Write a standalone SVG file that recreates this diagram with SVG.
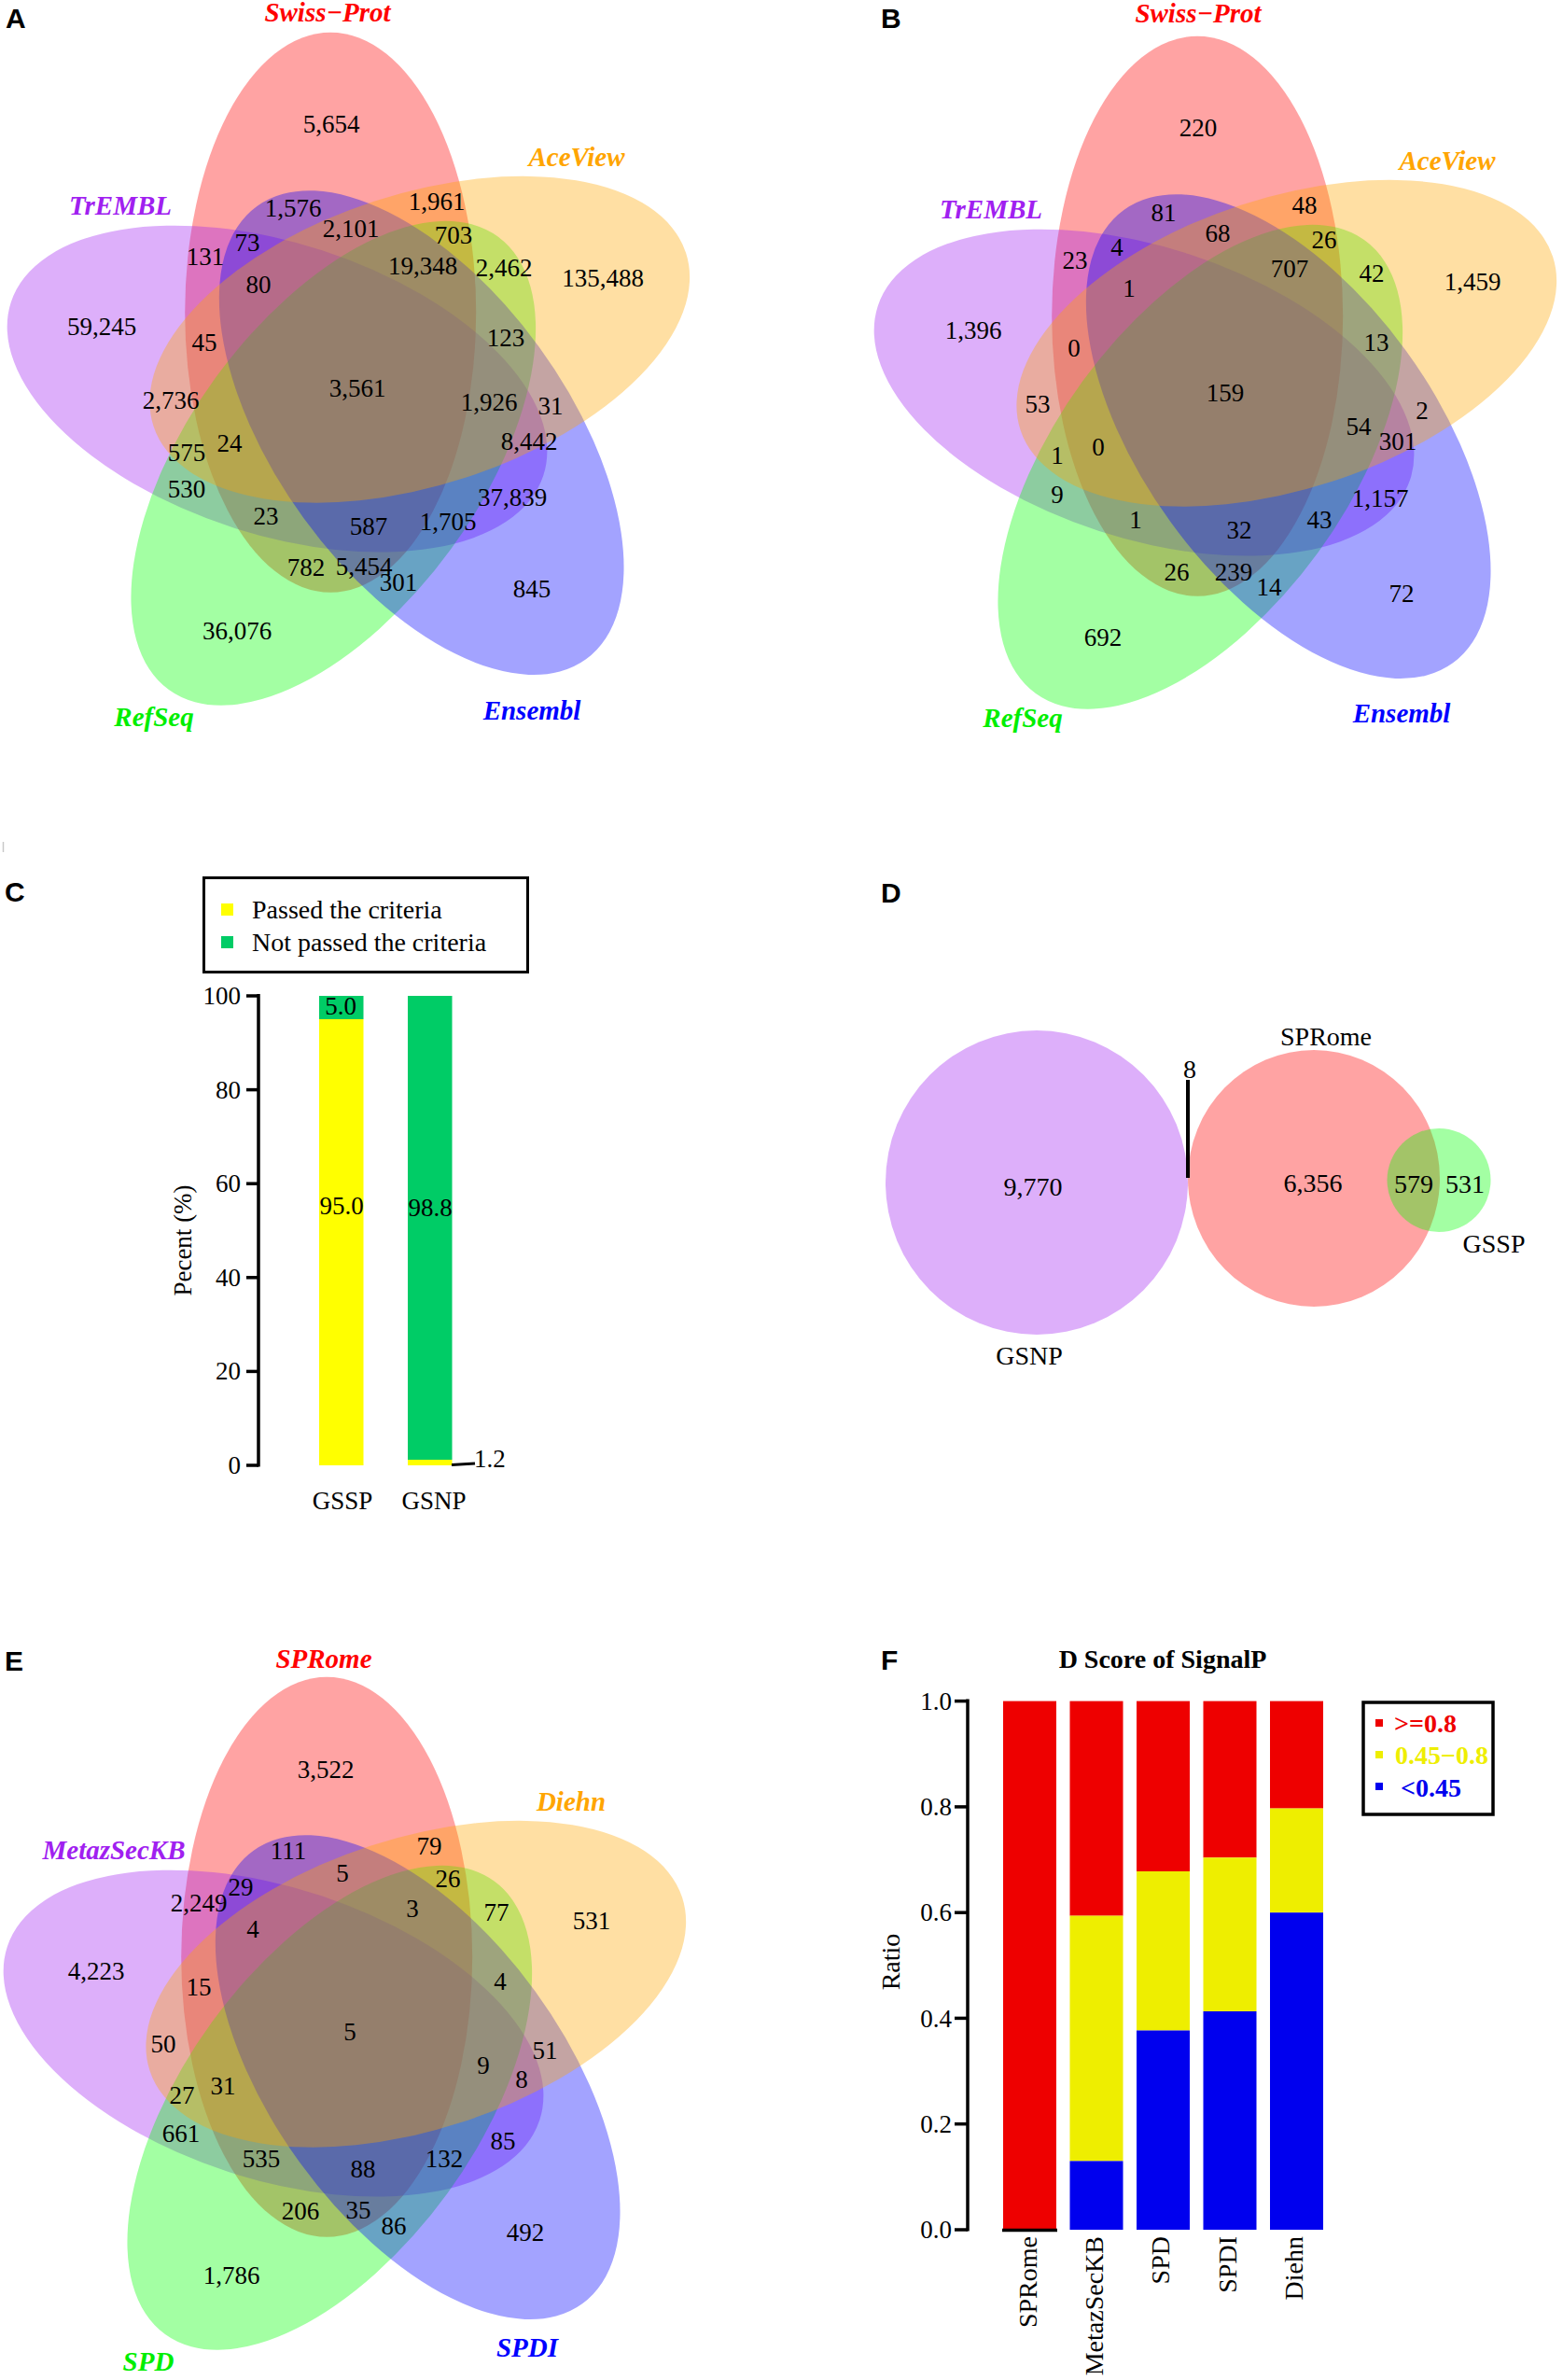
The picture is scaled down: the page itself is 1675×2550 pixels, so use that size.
<svg xmlns="http://www.w3.org/2000/svg" width="1675" height="2550" viewBox="0 0 1675 2550">
<style>
.num{font-family:"Liberation Serif","Times New Roman",serif;font-size:27px;text-anchor:middle;fill:#000}
.lab{font-family:"Liberation Serif","Times New Roman",serif;font-size:28px;fill:#000}
.set{font-family:"Liberation Serif","Times New Roman",serif;font-weight:bold;font-style:italic;font-size:29px;text-anchor:middle}
.panel{font-family:"Liberation Sans",Arial,sans-serif;font-weight:bold;font-size:30px;fill:#000}
.ell{fill-opacity:0.36;stroke:none}
.axis{stroke:#000;stroke-width:3.5;fill:none}
.tick{font-family:"Liberation Serif","Times New Roman",serif;font-size:27px;text-anchor:end;fill:#000}
.bold{font-family:"Liberation Serif","Times New Roman",serif;font-weight:bold;font-size:28px}
</style>
<defs>
<ellipse id="e0" cx="-27.8" cy="-80.3" rx="156" ry="300"/>
</defs>

<!-- faint artifact mark -->
<line x1="3.5" y1="902" x2="3.5" y2="913" stroke="#c8c8c8" stroke-width="1.5"/>

<!-- ===== Panel A ===== -->
<text class="panel" x="6" y="30">A</text>
<g id="A-sets" transform="translate(382,415)">
  <g id="A-SwissProt"><use href="#e0" class="ell" fill="#FF0000"/></g>
  <g id="A-TrEMBL"><use href="#e0" class="ell" fill="#A020F0" transform="rotate(288)"/></g>
  <g id="A-RefSeq"><use href="#e0" class="ell" fill="#00FF00" transform="rotate(216)"/></g>
  <g id="A-Ensembl"><use href="#e0" class="ell" fill="#0000FF" transform="rotate(144)"/></g>
  <g id="A-AceView"><use href="#e0" class="ell" fill="#FFA500" transform="rotate(72)"/></g>
</g>
<g id="A-labels">
<text class="set" x="351" y="23" fill="#FF0000">Swiss−Prot</text>
<text class="set" x="618" y="178" fill="#FFA500">AceView</text>
<text class="set" x="129" y="230" fill="#A020F0">TrEMBL</text>
<text class="set" x="165" y="778" fill="#00EE00">RefSeq</text>
<text class="set" x="570" y="771" fill="#0000FF">Ensembl</text>
</g>
<g id="A-numbers" class="num">
<text x="355" y="142">5,654</text>
<text x="314" y="232">1,576</text>
<text x="468" y="225">1,961</text>
<text x="376" y="254">2,101</text>
<text x="486" y="261">703</text>
<text x="220" y="284">131</text>
<text x="265" y="269">73</text>
<text x="453" y="294">19,348</text>
<text x="540" y="296">2,462</text>
<text x="646" y="307">135,488</text>
<text x="277" y="314">80</text>
<text x="109" y="359">59,245</text>
<text x="219" y="376">45</text>
<text x="542" y="371">123</text>
<text x="383" y="425">3,561</text>
<text x="183" y="438">2,736</text>
<text x="524" y="440">1,926</text>
<text x="590" y="444">31</text>
<text x="200" y="494">575</text>
<text x="246" y="484">24</text>
<text x="567" y="482">8,442</text>
<text x="200" y="533">530</text>
<text x="549" y="542">37,839</text>
<text x="285" y="562">23</text>
<text x="395" y="573">587</text>
<text x="480" y="568">1,705</text>
<text x="328" y="617">782</text>
<text x="390" y="616">5,454</text>
<text x="427" y="633">301</text>
<text x="570" y="640">845</text>
<text x="254" y="685">36,076</text>
</g>

<!-- ===== Panel B ===== -->
<text class="panel" x="944" y="30">B</text>
<g id="B-sets" transform="translate(1311,419)">
  <g id="B-SwissProt"><use href="#e0" class="ell" fill="#FF0000"/></g>
  <g id="B-TrEMBL"><use href="#e0" class="ell" fill="#A020F0" transform="rotate(288)"/></g>
  <g id="B-RefSeq"><use href="#e0" class="ell" fill="#00FF00" transform="rotate(216)"/></g>
  <g id="B-Ensembl"><use href="#e0" class="ell" fill="#0000FF" transform="rotate(144)"/></g>
  <g id="B-AceView"><use href="#e0" class="ell" fill="#FFA500" transform="rotate(72)"/></g>
</g>
<g id="B-labels">
<text class="set" x="1284" y="24" fill="#FF0000">Swiss−Prot</text>
<text class="set" x="1551" y="182" fill="#FFA500">AceView</text>
<text class="set" x="1062" y="234" fill="#A020F0">TrEMBL</text>
<text class="set" x="1096" y="779" fill="#00EE00">RefSeq</text>
<text class="set" x="1502" y="774" fill="#0000FF">Ensembl</text>
</g>
<g id="B-numbers" class="num">
<text x="1284" y="146">220</text>
<text x="1247" y="237">81</text>
<text x="1398" y="229">48</text>
<text x="1305" y="259">68</text>
<text x="1419" y="266">26</text>
<text x="1197" y="274">4</text>
<text x="1152" y="288">23</text>
<text x="1382" y="297">707</text>
<text x="1470" y="302">42</text>
<text x="1578" y="311">1,459</text>
<text x="1210" y="318">1</text>
<text x="1043" y="363">1,396</text>
<text x="1151" y="382">0</text>
<text x="1475" y="376">13</text>
<text x="1313" y="430">159</text>
<text x="1112" y="442">53</text>
<text x="1524" y="449">2</text>
<text x="1456" y="466">54</text>
<text x="1498" y="482">301</text>
<text x="1177" y="488">0</text>
<text x="1133" y="497">1</text>
<text x="1133" y="539">9</text>
<text x="1479" y="543">1,157</text>
<text x="1217" y="566">1</text>
<text x="1414" y="566">43</text>
<text x="1328" y="577">32</text>
<text x="1261" y="622">26</text>
<text x="1322" y="622">239</text>
<text x="1360" y="638">14</text>
<text x="1502" y="645">72</text>
<text x="1182" y="692">692</text>
</g>

<!-- ===== Panel C ===== -->
<text class="panel" x="5" y="966">C</text>
<g id="C-legend">
<rect x="218.5" y="940.5" width="347" height="101" fill="#fff" stroke="#000" stroke-width="3"/>
<rect x="237" y="968" width="13" height="13" fill="#FFFF00"/>
<text class="lab" x="270" y="984">Passed the criteria</text>
<rect x="237" y="1003" width="13" height="13" fill="#00CC66"/>
<text class="lab" x="270" y="1019">Not passed the criteria</text>
</g>
<g id="C-bars">
<rect x="342" y="1067" width="47.5" height="25" fill="#00CC66"/>
<rect x="342" y="1092" width="47.5" height="478" fill="#FFFF00"/>
<rect x="437" y="1067" width="47.5" height="497" fill="#00CC66"/>
<rect x="437" y="1564" width="47.5" height="6" fill="#FFFF00"/>
</g>
<g id="C-axis">
<line class="axis" x1="277" y1="1065" x2="277" y2="1571.5"/>
<line class="axis" x1="264" y1="1067" x2="277" y2="1067"/>
<line class="axis" x1="264" y1="1167.6" x2="277" y2="1167.6"/>
<line class="axis" x1="264" y1="1268.2" x2="277" y2="1268.2"/>
<line class="axis" x1="264" y1="1368.8" x2="277" y2="1368.8"/>
<line class="axis" x1="264" y1="1469.4" x2="277" y2="1469.4"/>
<line class="axis" x1="264" y1="1570" x2="277" y2="1570"/>
<text class="tick" x="258" y="1076">100</text>
<text class="tick" x="258" y="1176.6">80</text>
<text class="tick" x="258" y="1277.2">60</text>
<text class="tick" x="258" y="1377.8">40</text>
<text class="tick" x="258" y="1478.4">20</text>
<text class="tick" x="258" y="1579">0</text>
<text class="num" transform="translate(205,1329) rotate(-90)">Pecent (%)</text>
</g>
<g id="C-values" class="num">
<text x="365" y="1087">5.0</text>
<text x="366" y="1301">95.0</text>
<text x="461" y="1303">98.8</text>
<text x="508" y="1572" style="text-anchor:start">1.2</text>
<text x="367" y="1617">GSSP</text>
<text x="465" y="1617">GSNP</text>
</g>
<line x1="484" y1="1569.5" x2="509" y2="1568" stroke="#000" stroke-width="3"/>

<!-- ===== Panel D ===== -->
<text class="panel" x="944" y="967">D</text>
<g id="D-GSNP"><ellipse class="ell" cx="1111" cy="1267" rx="162" ry="163" fill="#A020F0"/></g>
<g id="D-SPRome"><ellipse class="ell" cx="1408" cy="1262.5" rx="135" ry="137.5" fill="#FF0000"/></g>
<g id="D-GSSP"><ellipse class="ell" cx="1542" cy="1264.5" rx="55.5" ry="55.5" fill="#00FF00"/></g>
<g id="D-connectors"><line x1="1273" y1="1157" x2="1273" y2="1262" stroke="#000" stroke-width="4"/></g>
<g id="D-text" class="num" style="font-size:28px">
<text x="1275" y="1155">8</text>
<text x="1421" y="1120">SPRome</text>
<text x="1107" y="1281">9,770</text>
<text x="1407" y="1277">6,356</text>
<text x="1515" y="1278">579</text>
<text x="1570" y="1278">531</text>
<text x="1601" y="1342">GSSP</text>
<text x="1103" y="1462">GSNP</text>
</g>

<!-- ===== Panel E ===== -->
<text class="panel" x="5" y="1790">E</text>
<g id="E-sets" transform="translate(378,2177)">
  <g id="E-SPRome"><use href="#e0" class="ell" fill="#FF0000"/></g>
  <g id="E-MetazSecKB"><use href="#e0" class="ell" fill="#A020F0" transform="rotate(288)"/></g>
  <g id="E-SPD"><use href="#e0" class="ell" fill="#00FF00" transform="rotate(216)"/></g>
  <g id="E-SPDI"><use href="#e0" class="ell" fill="#0000FF" transform="rotate(144)"/></g>
  <g id="E-Diehn"><use href="#e0" class="ell" fill="#FFA500" transform="rotate(72)"/></g>
</g>
<g id="E-labels">
<text class="set" x="347" y="1787" fill="#FF0000">SPRome</text>
<text class="set" x="612" y="1940" fill="#FFA500">Diehn</text>
<text class="set" x="122" y="1992" fill="#A020F0">MetazSecKB</text>
<text class="set" x="159" y="2540" fill="#00EE00">SPD</text>
<text class="set" x="565" y="2525" fill="#0000FF">SPDI</text>
</g>
<g id="E-numbers" class="num">
<text x="349" y="1905">3,522</text>
<text x="309" y="1992">111</text>
<text x="460" y="1987">79</text>
<text x="367" y="2016">5</text>
<text x="480" y="2022">26</text>
<text x="258" y="2031">29</text>
<text x="213" y="2048">2,249</text>
<text x="442" y="2054">3</text>
<text x="532" y="2058">77</text>
<text x="634" y="2067">531</text>
<text x="271" y="2076">4</text>
<text x="103" y="2121">4,223</text>
<text x="213" y="2138">15</text>
<text x="536" y="2132">4</text>
<text x="375" y="2186">5</text>
<text x="175" y="2199">50</text>
<text x="584" y="2206">51</text>
<text x="518" y="2222">9</text>
<text x="559" y="2237">8</text>
<text x="239" y="2244">31</text>
<text x="195" y="2254">27</text>
<text x="194" y="2295">661</text>
<text x="539" y="2303">85</text>
<text x="280" y="2322">535</text>
<text x="476" y="2322">132</text>
<text x="389" y="2333">88</text>
<text x="322" y="2378">206</text>
<text x="384" y="2377">35</text>
<text x="422" y="2394">86</text>
<text x="563" y="2401">492</text>
<text x="248" y="2447">1,786</text>
</g>

<!-- ===== Panel F ===== -->
<text class="panel" x="944" y="1789">F</text>
<text class="bold" x="1246" y="1787" text-anchor="middle">D Score of SignalP</text>
<g id="F-bars">
<rect x="1075" y="1822.6" width="57" height="566.4" fill="#EE0000"/>
<rect x="1146.5" y="1822.6" width="57" height="230" fill="#EE0000"/>
<rect x="1146.5" y="2052.6" width="57" height="262.8" fill="#EEEE00"/>
<rect x="1146.5" y="2315.4" width="57" height="73.6" fill="#0000EE"/>
<rect x="1218" y="1822.6" width="57" height="182.4" fill="#EE0000"/>
<rect x="1218" y="2005" width="57" height="170.5" fill="#EEEE00"/>
<rect x="1218" y="2175.5" width="57" height="213.5" fill="#0000EE"/>
<rect x="1289.5" y="1822.6" width="57" height="167.7" fill="#EE0000"/>
<rect x="1289.5" y="1990.3" width="57" height="164.7" fill="#EEEE00"/>
<rect x="1289.5" y="2155" width="57" height="234" fill="#0000EE"/>
<rect x="1361" y="1822.6" width="57" height="115" fill="#EE0000"/>
<rect x="1361" y="1937.6" width="57" height="111.6" fill="#EEEE00"/>
<rect x="1361" y="2049.2" width="57" height="339.8" fill="#0000EE"/>
</g>
<g id="F-axis">
<line class="axis" x1="1037" y1="1820.5" x2="1037" y2="2390.5"/>
<line class="axis" x1="1023" y1="1822.6" x2="1037" y2="1822.6"/>
<line class="axis" x1="1023" y1="1935.9" x2="1037" y2="1935.9"/>
<line class="axis" x1="1023" y1="2049.2" x2="1037" y2="2049.2"/>
<line class="axis" x1="1023" y1="2162.4" x2="1037" y2="2162.4"/>
<line class="axis" x1="1023" y1="2275.7" x2="1037" y2="2275.7"/>
<line class="axis" x1="1023" y1="2389" x2="1037" y2="2389"/>
<line class="axis" x1="1074" y1="2389.5" x2="1133" y2="2389.5"/>
<text class="tick" x="1020" y="1832">1.0</text>
<text class="tick" x="1020" y="1945">0.8</text>
<text class="tick" x="1020" y="2058">0.6</text>
<text class="tick" x="1020" y="2172">0.4</text>
<text class="tick" x="1020" y="2285">0.2</text>
<text class="tick" x="1020" y="2398">0.0</text>
<text class="lab" transform="translate(964,2102) rotate(-90)" text-anchor="middle">Ratio</text>
</g>
<g id="F-xlabels" class="lab" text-anchor="end">
<text transform="translate(1111,2396) rotate(-90)">SPRome</text>
<text transform="translate(1182,2396) rotate(-90)">MetazSecKB</text>
<text transform="translate(1253,2396) rotate(-90)">SPD</text>
<text transform="translate(1325,2396) rotate(-90)">SPDI</text>
<text transform="translate(1396,2396) rotate(-90)">Diehn</text>
</g>
<g id="F-legend">
<rect x="1461" y="1824" width="139" height="120" fill="#fff" stroke="#000" stroke-width="3.5"/>
<rect x="1474" y="1842" width="8" height="8" fill="#EE0000"/>
<text class="bold" x="1494" y="1856" fill="#EE0000">&gt;=0.8</text>
<rect x="1474" y="1876" width="8" height="8" fill="#EEEE00"/>
<text class="bold" x="1495" y="1890" fill="#EEEE00">0.45−0.8</text>
<rect x="1474" y="1910" width="8" height="8" fill="#0000EE"/>
<text class="bold" x="1501" y="1925" fill="#0000EE">&lt;0.45</text>
</g>
</svg>
